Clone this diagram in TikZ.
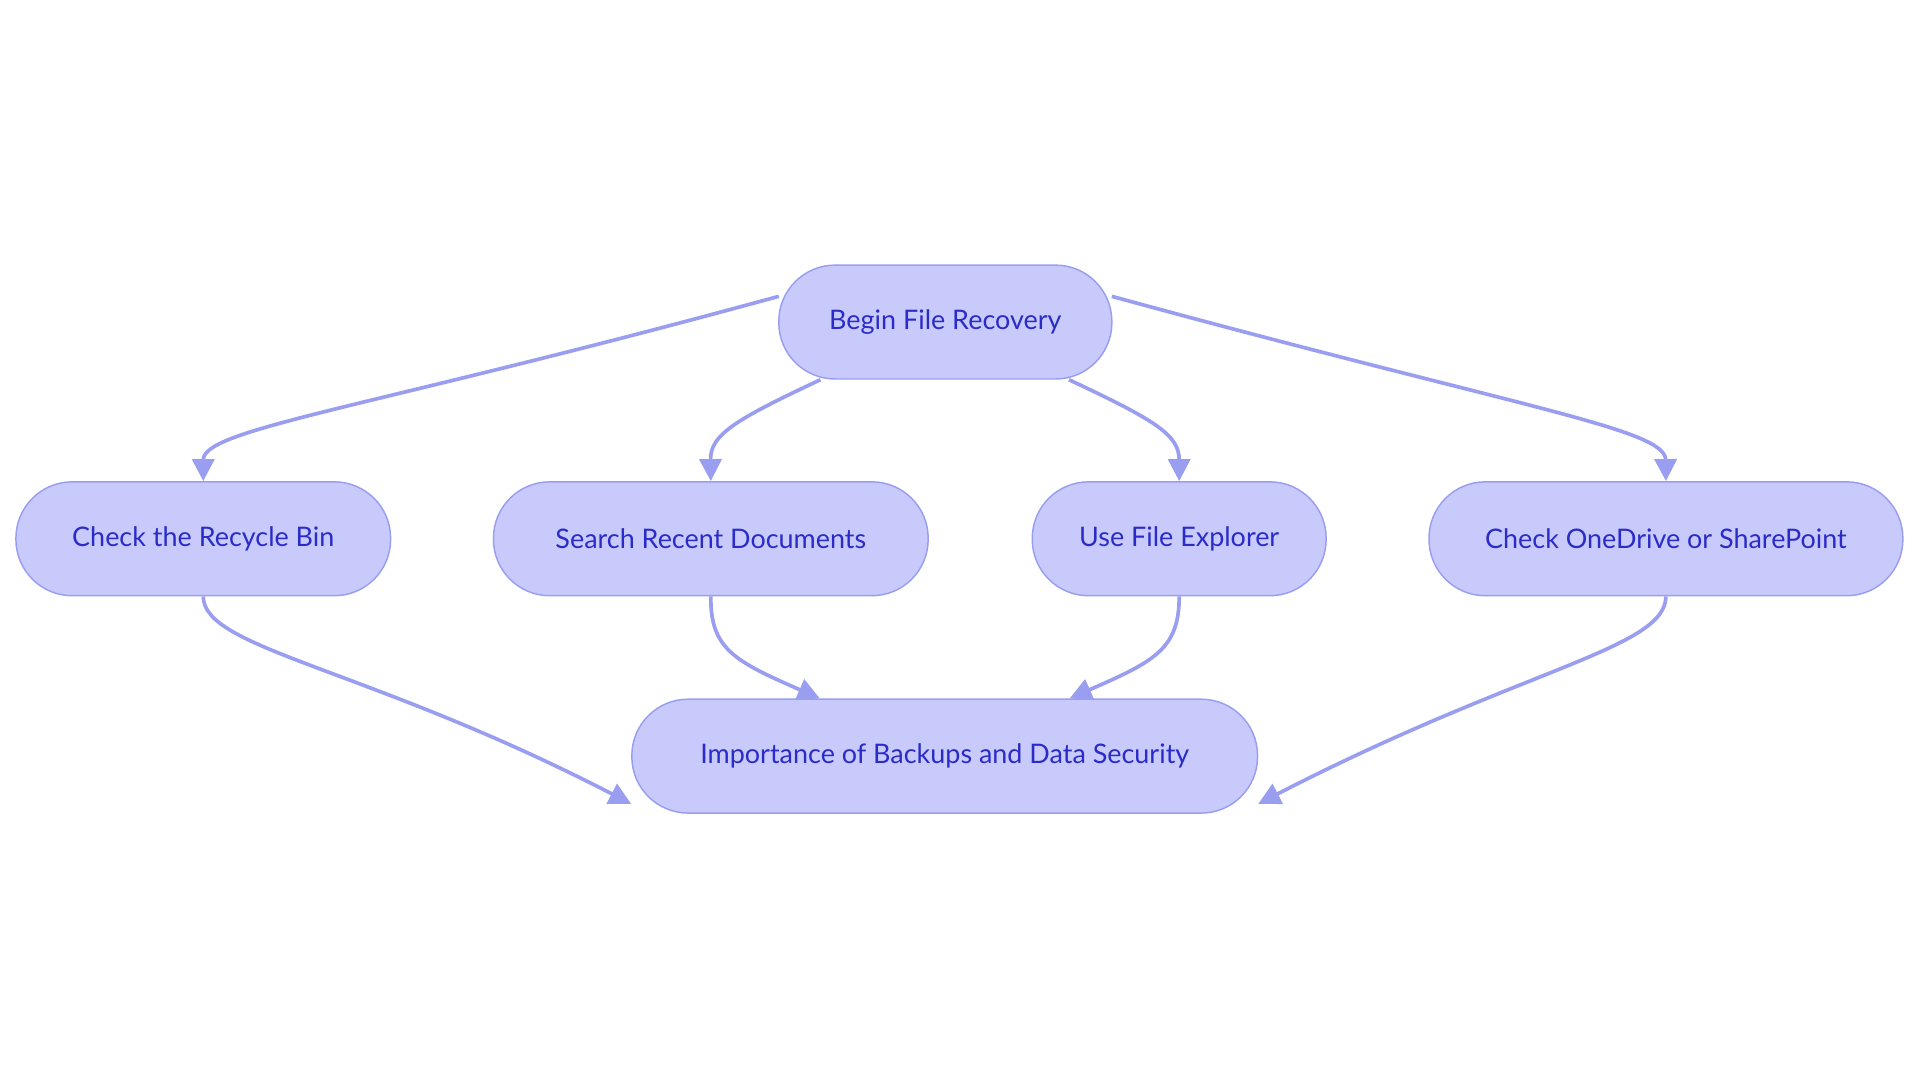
\documentclass[tikz,border=0pt]{standalone}
\usepackage{fontspec}
\setmainfont{Lato}
\usetikzlibrary{arrows.meta}
\definecolor{nfill}{HTML}{C8CAFC}
\definecolor{ndraw}{HTML}{9A9EF0}
\definecolor{ntext}{HTML}{2B2BC8}
\definecolor{edge}{HTML}{9A9EF0}
\begin{document}
\begin{tikzpicture}[x=1pt,y=-1pt,
 box/.style={draw=ndraw,fill=nfill,line width=1.2pt,rounded corners=46pt,minimum height=93pt,text=ntext,font=\fontsize{22}{26}\selectfont,inner xsep=0pt},
 conn/.style={draw=edge,line width=3pt,-{Triangle[length=18pt,width=18pt]}}]
\useasboundingbox (0,0) rectangle (1568,884);
\node[box,minimum width=272pt] (b) at (772,263) {Begin File Recovery};
\node[box,minimum width=306pt] (r) at (166,440) {Check the Recycle Bin};
\node[box,minimum width=355pt] (s) at (580.5,440) {Search Recent Documents};
\node[box,minimum width=240pt] (u) at (963,440) {Use File Explorer};
\node[box,minimum width=387pt] (o) at (1360.5,440) {Check OneDrive or SharePoint};
\node[box,minimum width=511pt] (i) at (771.5,617.5) {Importance of Backups and Data Security};
\draw[conn] ([xshift=-136pt,yshift=21pt]b.center) .. controls (300,334) and (166,350) .. (r.north);
\draw[conn] ([xshift=-102pt]b.south) .. controls (600,343) and (580,355) .. (s.north);
\draw[conn] ([xshift=101pt]b.south) .. controls (943,343) and (963,355) .. (u.north);
\draw[conn] ([xshift=136pt,yshift=21pt]b.center) .. controls (1244,334) and (1360,350) .. (o.north);
\draw[conn] (r.south) .. controls (166,530) and (300,545) .. ([xshift=-256pt,yshift=-39pt]i.center);
\draw[conn] (s.south) .. controls (580,530) and (600,540) .. ([xshift=-102pt]i.north);
\draw[conn] (u.south) .. controls (963,530) and (943,540) .. ([xshift=102pt]i.north);
\draw[conn] (o.south) .. controls (1360,530) and (1244,545) .. ([xshift=256pt,yshift=-39pt]i.center);
\end{tikzpicture}
\end{document}
